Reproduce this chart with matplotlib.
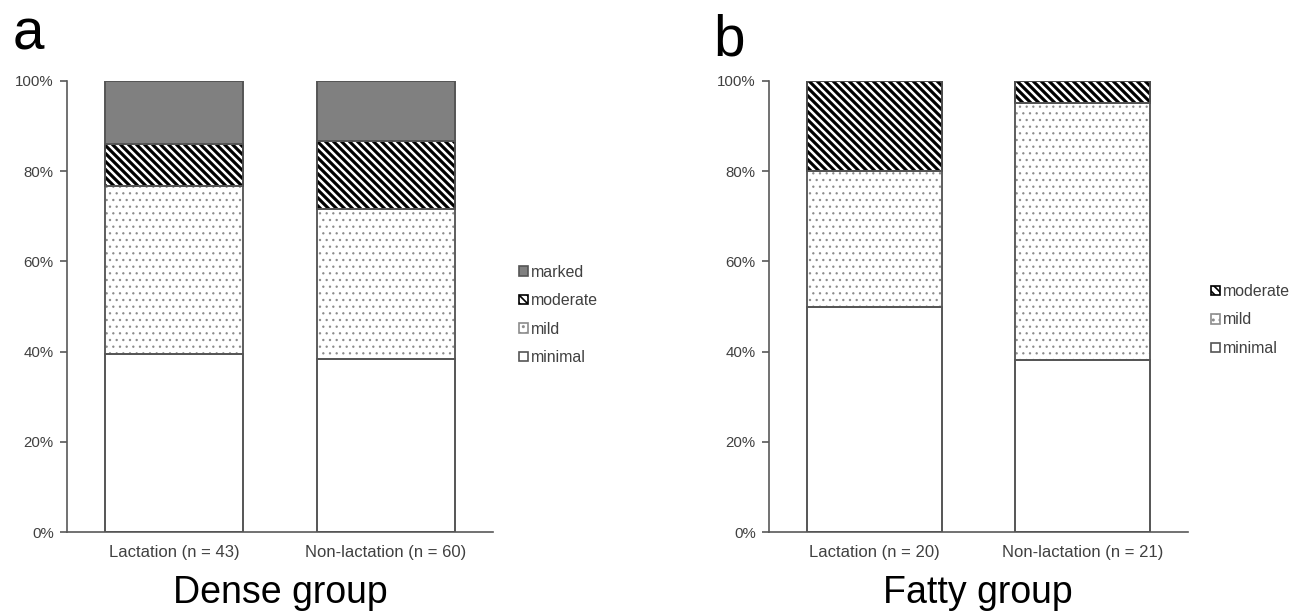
import matplotlib
matplotlib.use("Agg")
import matplotlib as mpl
from matplotlib import pyplot as plt
import numpy as np

plt.rcParams['font.family'] = ['Liberation Sans', 'DejaVu Sans']

# data (percent of cases per category)
levels = ['minimal', 'mild', 'moderate', 'marked']

dense_labels = ['Lactation (n = 43)', 'Non-lactation (n = 60)']
dense_minimal = [39.5, 38.3]
dense_mild = [37.2, 33.3]
dense_moderate = [9.3, 15.0]
dense_marked = [14.0, 13.4]

fatty_labels = ['Lactation (n = 20)', 'Non-lactation (n = 21)']
fatty_minimal = [50.0, 38.1]
fatty_mild = [30.0, 57.1]
fatty_moderate = [20.0, 4.8]

yticks = [0, 20, 40, 60, 80, 100]

DPI = 120
EDGE = '#555555'
TXT = '#404040'

styles = {
    'minimal': dict(color='white', edgecolor=EDGE, hatch=None, hlw=0.5),
    'mild': dict(color='white', edgecolor='#8c8c8c', hatch='...', hlw=0.6),
    'moderate': dict(color='white', edgecolor='black', hatch='\\\\\\\\\\', hlw=1.9),
    'marked': dict(color='#808080', edgecolor=EDGE, hatch=None, hlw=0.5),
}

fig = plt.figure(figsize=(1305 / DPI, 611 / DPI), dpi=DPI)
ax1 = fig.add_axes([67 / 1305, 1 - 532 / 611, 426 / 1305, 451 / 611])
ax2 = fig.add_axes([769 / 1305, 1 - 532 / 611, 419 / 1305, 451 / 611])


def draw(ax, labels, series, leg_xy):
    x = np.arange(len(labels))
    bottom = np.zeros(len(labels))
    handles = []
    for name, vals in series:
        st = styles[name]
        with mpl.rc_context({'hatch.linewidth': st['hlw']}):
            bars = ax.bar(x, vals, 0.65, bottom=bottom, color=st['color'],
                          edgecolor=st['edgecolor'], hatch=st['hatch'],
                          linewidth=1.0, label=name, zorder=2)
        for b in bars:
            if hasattr(b, 'set_hatch_linewidth'):
                b.set_hatch_linewidth(st['hlw'])
        # outline in gray on top
        ax.bar(x, vals, 0.65, bottom=bottom, color='none', edgecolor=EDGE,
               linewidth=1.0, zorder=3)
        handles.append(bars)
        bottom += np.array(vals)
    ax.set_xlim(-0.507, 1.507)
    ax.set_ylim(0, 100)
    ax.set_yticks(yticks)
    ax.set_yticklabels([f'{t}%' for t in yticks])
    ax.set_xticks(x)
    ax.set_xticklabels(labels)
    for s in ['top', 'right']:
        ax.spines[s].set_visible(False)
    for s in ['left', 'bottom']:
        ax.spines[s].set_color('#595959')
        ax.spines[s].set_linewidth(1.0)
    ax.tick_params(axis='y', length=4, width=1.0, color='#595959',
                   labelsize=9, labelcolor=TXT, pad=4)
    ax.tick_params(axis='x', length=0, labelsize=10, labelcolor=TXT, pad=8)
    leg = ax.legend(handles[::-1], [n for n, _ in series][::-1],
                    loc='center left', bbox_to_anchor=leg_xy,
                    bbox_transform=fig.transFigure, frameon=False,
                    borderpad=0, borderaxespad=0, handlelength=0.55,
                    handleheight=0.55, handletextpad=0.2, labelspacing=0.85,
                    fontsize=9.5)
    for t in leg.get_texts():
        t.set_color(TXT)


draw(ax1, dense_labels,
     [('minimal', dense_minimal), ('mild', dense_mild),
      ('moderate', dense_moderate), ('marked', dense_marked)],
     (519 / 1305, 1 - 315 / 611))
draw(ax2, fatty_labels,
     [('minimal', fatty_minimal), ('mild', fatty_mild),
      ('moderate', fatty_moderate)],
     (1211 / 1305, 1 - 320 / 611))

fig.text(13 / 1305, 1 - 50 / 611, 'a', fontsize=34, va='baseline', ha='left')
fig.text(713 / 1305, 1 - 55 / 611, 'b', fontsize=34, va='baseline', ha='left')
fig.text(280 / 1305, 1 - 593 / 611, 'Dense group', fontsize=22.5, ha='center', va='center')
fig.text(978 / 1305, 1 - 593 / 611, 'Fatty group', fontsize=22.5, ha='center', va='center')

fig.savefig('out.png', dpi=DPI)
